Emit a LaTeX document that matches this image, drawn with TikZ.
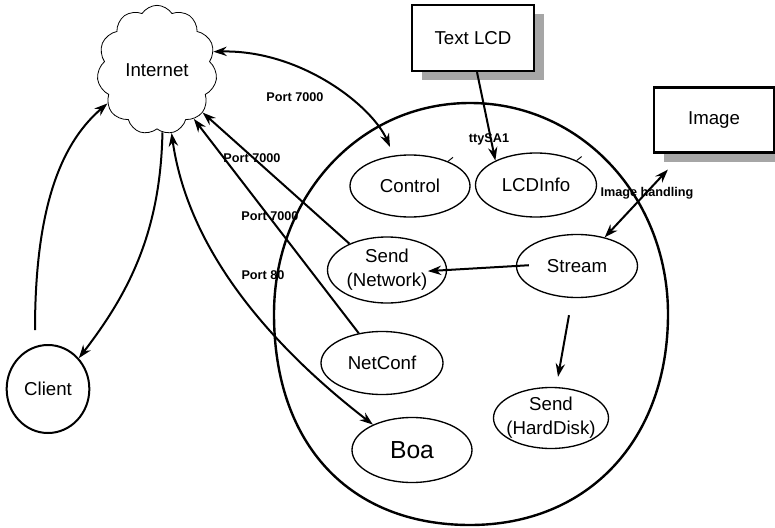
\documentclass[tikz,border=0pt]{standalone}
\usepackage{fontspec}
\setmainfont{Liberation Sans}
\usepackage{tikz}
\usetikzlibrary{arrows.meta,calc}
\usetikzlibrary{shapes.geometric, shapes.symbols, shadows}

\begin{document}
\begin{tikzpicture}[x=0.75pt, y=-0.75pt,
  proc/.style = {shape=ellipse, draw, line width=1pt, inner sep=0pt,
    align=center, font=\fontsize{14}{18}\selectfont},
  hw/.style = {shape=rectangle, draw, line width=1.7pt, fill=white,
    minimum width=91pt, minimum height=49pt, font=\fontsize{14}{18}\selectfont,
    drop shadow={shadow xshift=7.5pt, shadow yshift=-7pt, fill=black!35, opacity=1}},
  port/.style = {inner sep=0pt, font=\bfseries\fontsize{9.5}{11}\selectfont},
  link/.style = {line width=1.5pt, -{Stealth[length=10pt,width=7pt]}},
  both/.style = {line width=1.5pt, {Stealth[length=10pt,width=7pt]}-{Stealth[length=10pt,width=7pt]}}]
  \useasboundingbox (0,0) rectangle (775,528);
  \draw[line width=1.8pt] (274,314) .. controls (274,198) and (358,103) .. (470,103)
    .. controls (582,103) and (668,198) .. (668,314)
    .. controls (668,440) and (588,525) .. (470,525)
    .. controls (350,525) and (274,445) .. (274,314) -- cycle;

  \node[cloud, draw, line width=0.6pt, cloud puffs=11, cloud puff arc=115,
    cloud ignores aspect, minimum width=90pt, minimum height=97pt, inner sep=0pt,
    font=\fontsize{14}{18}\selectfont] (internet) at (157,70) {Internet};
  \node[hw, minimum width=91.5pt, minimum height=49.5pt] (textlcd) at (473,38) {Text LCD};
  \node[hw, minimum width=90pt, minimum height=48.75pt] (image) at (714,120) {Image};
  \node[proc, minimum width=90pt, minimum height=46.5pt] (control) at (410,186) {Control};
  \node[proc, minimum width=90.75pt, minimum height=48pt] (lcdinfo) at (536,185) {LCDInfo};
  \node[proc, minimum width=89.25pt, minimum height=49.5pt] (sendnet) at (387,270) {Send\\(Network)};
  \node[proc, minimum width=90.75pt, minimum height=47.25pt] (stream) at (577,266) {Stream};
  \node[proc, minimum width=91.5pt, minimum height=47.25pt] (netconf) at (382,363) {NetConf};
  \node[proc, inner xsep=-3.5pt, minimum width=86.25pt, minimum height=45.75pt] (senddisk) at (551,418) {Send\\(HardDisk)};
  \node[proc, minimum width=90pt, minimum height=48.75pt, font=\fontsize{18.5}{22}\selectfont] (boa) at (412,450) {Boa};
  \node[proc, line width=1.5pt, minimum width=62pt, minimum height=66pt] (client) at (48,389) {Client};
  \coordinate (clienttop) at (35,330);

  \draw[line width=0.7pt] (control.33) -- ++(5,-4);
  \draw[line width=0.7pt] (lcdinfo.31) -- ++(5,-4);

  \draw[link] (clienttop) .. controls +(0,-130) and +(-43,37) .. (internet.214);
  \draw[link] (internet.275) .. controls +(-2,100) and +(50,-65) .. (client.45);
  \draw[both] (internet.283) .. controls +(18,127) and +(-88,-68) .. (boa.147);
  \draw[both, shorten >=7pt] (internet.18) .. controls +(87,-2) and +(-22,-50) .. (control.118);
  \draw[link] (sendnet.145) -- (internet.317);
  \draw[link] (netconf.128) -- (internet.307);
  \draw[link] ([xshift=3pt]textlcd.south) -- (lcdinfo.149);
  \draw[both] ($(image.south west)+(15,16)$) -- (stream.46);
  \draw[link, shorten <=-9.75pt, shorten >=-14.5pt] (stream.west) -- (sendnet.east);
  \draw[link] ($(stream.south)+(-8,17)$) -- ($(senddisk.north)+(7,-10)$);

  \node[port] (porta) at (295,97) {Port 7000};
  \node[port] (portb) at (252,158) {Port 7000};
  \node[port] (portc) at (270,216) {Port 7000};
  \node[port] (portweb) at (263,275) {Port 80};
  \node[port] (tty) at (489,139) {ttySA1};
  \node[port] (imghandling) at (647,193) {Image handling};
\end{tikzpicture}
\end{document}
